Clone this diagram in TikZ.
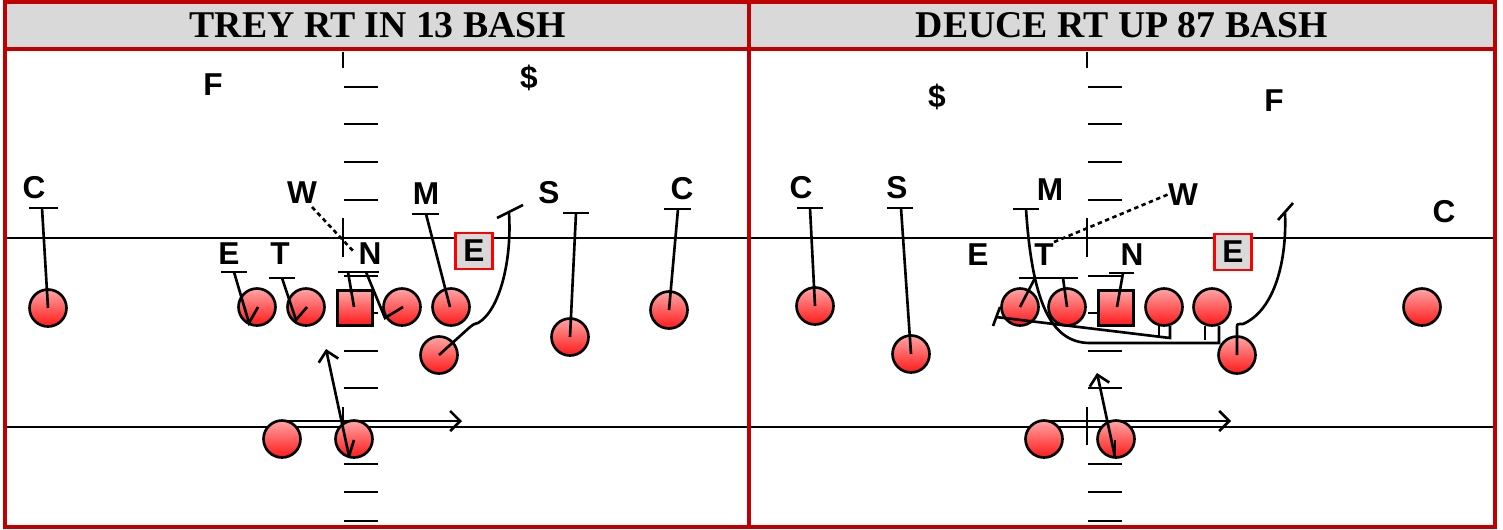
\documentclass[tikz,border=0pt]{standalone}
\usepackage{fontspec}
\setmainfont{Liberation Serif}
\newfontfamily\lab{Liberation Sans}
\usetikzlibrary{arrows.meta}
\definecolor{bred}{RGB}{192,0,0}
\definecolor{hdr}{RGB}{217,217,217}
\definecolor{plight}{RGB}{255,165,165}
\definecolor{pdark}{RGB}{255,25,25}
\begin{document}
\begin{tikzpicture}[x=0.02cm,y=-0.02cm,
  lbl/.style={font=\lab\bfseries\fontsize{18}{18}\selectfont, inner sep=0pt},
  ttl/.style={font=\bfseries\fontsize{21.5}{21.5}\selectfont, inner sep=0pt},
  player/.style={circle, draw=black, line width=1.5pt, minimum size=0.74cm, inner sep=0pt, top color=plight, bottom color=pdark},
  ctr/.style={rectangle, draw=black, line width=1.5pt, minimum size=0.69cm, inner sep=0pt, top color=plight, bottom color=pdark},
  ebox/.style={rectangle, draw=red, line width=1.5pt, fill=hdr, minimum width=0.74cm, minimum height=0.72cm, inner sep=0pt, font=\lab\bfseries\fontsize{18}{18}\selectfont},
  route/.style={line width=1.5pt, black},
  fld/.style={line width=0.9pt},
  hashmk/.style={line width=1.3pt},
  blk/.style={line width=1.5pt},
  arr/.style={route, -{Straight Barb[length=0.2cm,width=0.4cm,line width=1.5pt]}},
  rd/.style={line width=1.5pt, dash pattern=on 2.5pt off 2pt},
  frame/.style={bred, line width=1.8pt}
]
\useasboundingbox (0,0) rectangle (1503,529);
\fill[white] (0,0) rectangle (1503,529);
% headers
\fill[hdr] (5,2) rectangle (749,49);
\fill[hdr] (749,2) rectangle (1495,49);
% field lines
\draw[fld] (6,238) -- (1494,238);
\draw[fld] (6,427) -- (1494,427);
\foreach \o in {0,744}{
  \foreach \yy in {87,124,162,200,276,313,351,388,464,492,521}{
    \draw[hashmk] (344+\o,\yy) -- (378+\o,\yy);
  }
  \draw[hashmk] (343+\o,52) -- (343+\o,68);
  \draw[hashmk] (343+\o,218) -- (343+\o,257);
  \draw[hashmk] (343+\o,407) -- (343+\o,445);
}
% frames
\draw[frame] (5,2) rectangle (749,527);
\draw[frame] (749,2) rectangle (1495,527);
\draw[frame] (5,49) -- (1495,49);
\node[ttl] (t1) at (378,25) {TREY RT IN 13 BASH};
\node[ttl] (t2) at (1122,25) {DEUCE RT UP 87 BASH};

% ---------- left panel ----------
\node[player] (lc1) at (48,308) {};
\node[player] (le) at (257,307) {};
\node[player] (lt) at (306,307) {};
\node[ctr] (lctr) at (355,308) {};
\node[player] (lg) at (402,307) {};
\node[player] (lm) at (451,307) {};
\node[player] (lw) at (439,355) {};
\node[player] (ls) at (570,337) {};
\node[player] (lc2) at (669,310) {};
\node[player] (lb1) at (282,439) {};
\node[player] (lb2) at (354,439) {};

\node[lbl] (lC1) at (34,188) {C};
\draw[blk] (29,208) -- (58,208);
\draw[route] (42,208) -- (lc1.center);
\node[lbl] (lF) at (213,85) {F};
\node[lbl] (lD) at (529,78) {\$};
\node[lbl] (lW) at (302,193) {W};
\draw[rd] (312,207) -- (355,253);
\node[lbl] (lE) at (229,254) {E};
\draw[blk] (221,272) -- (247,272);
\draw[route] (234,272) -- (249,323) -- (258,307);
\node[lbl] (lT) at (280,254) {T};
\draw[blk] (269,278) -- (295,278);
\draw[route] (282,278) -- (296,320) -- (307,307);
\node[lbl] (lN) at (370,254) {N};
\draw[blk] (338,272) -- (379,272);
\draw[route] (348,272) -- (354,307);
\draw[route] (366,272) -- (385,318) -- (403,307);
\node[lbl] (lM) at (426,194) {M};
\draw[blk] (412,214) -- (439,214);
\draw[route] (426,214) -- (450,307);
\node[ebox] (lEb) at (474,251) {E};
\draw[route] (lw.center) -- (470,327) .. controls (474,324) .. (478,323) .. controls (500,310) and (512,260) .. (509,213);
\draw[blk] (497,218) -- (523,205);
\node[lbl] (lS) at (549,193) {S};
\draw[blk] (563,213) -- (589,213);
\draw[route] (576,213) -- (ls.center);
\node[lbl] (lC2) at (682,189) {C};
\draw[blk] (664,209) -- (691,209);
\draw[route] (678,209) -- (lc2.center);
\draw[arr] (282,421) -- (462,421);
\draw[arr] (349,456) -- (326,349);
\draw[route] (349,456) -- (354,440);

% ---------- right panel ----------
\node[player] (rc1) at (815,306) {};
\node[player] (rs) at (911,354) {};
\node[player] (rt1) at (1020,307) {};
\node[player] (rt2) at (1067,307) {};
\node[ctr] (rctr) at (1116,308) {};
\node[player] (rg) at (1164,307) {};
\node[player] (rg2) at (1212,307) {};
\node[player] (rw) at (1237,355) {};
\node[player] (rc2) at (1422,307) {};
\node[player] (rb1) at (1044,439) {};
\node[player] (rb2) at (1116,439) {};

\node[lbl] (rC1) at (801,188) {C};
\draw[blk] (797,208) -- (823,208);
\draw[route] (810,208) -- (rc1.center);
\node[lbl] (rS) at (897,188) {S};
\draw[blk] (887,208) -- (913,208);
\draw[route] (901,208) -- (rs.center);
\node[lbl] (rD) at (937,97) {\$};
\node[lbl] (rF) at (1274,101) {F};
\node[lbl] (rC2) at (1444,212) {C};
\node[lbl] (rM) at (1050,190) {M};
\draw[blk] (1013,209) -- (1039,209);
\node[lbl] (rW) at (1183,195) {W};
\draw[rd] (1054,242) -- (1169,194);
\node[lbl] (rE) at (978,255) {E};
\node[lbl] (rT) at (1044,255) {T};
\node[lbl] (rN) at (1132,255) {N};
\node[ebox] (rEb) at (1233,252) {E};
\draw[blk] (1019,278) -- (1078,278);
\draw[blk] (1109,273) -- (1134,273);
\draw[route] (1035,278) -- (rt1.center);
\draw[route] (1063,278) -- (rt2.center);
\draw[route] (1123,273) -- (1117,307);
\draw[route] (1219,326) -- (1219,343) -- (1090,343) .. controls (1050,343) and (1032,300) .. (1026,209);
\draw[route] (1159,326) -- (1159,337);
\draw[route] (1170,326) -- (1170,338) -- (996,317);
\draw[blk] (993,326) -- (1000,307);
\draw[route] (1205,326) -- (1205,340);
\draw[route] (rw.center) -- (1237,327) .. controls (1237,324) .. (1243,324) .. controls (1275,310) and (1287,260) .. (1285,213);
\draw[blk] (1278,220) -- (1293,203);
\draw[arr] (1044,421) -- (1231,421);
\draw[arr] (1115,457) -- (1097,373);
\draw[route] (1115,440) -- (1115,457);
\end{tikzpicture}
\end{document}
